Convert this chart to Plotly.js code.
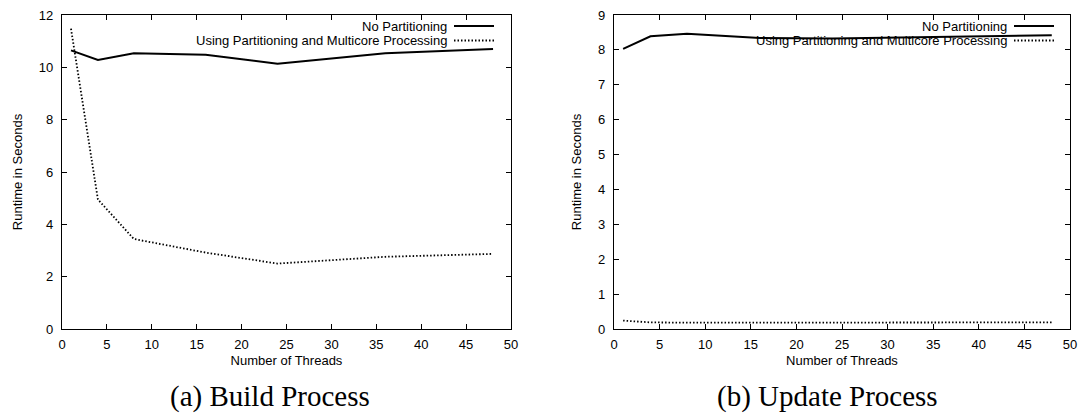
<!DOCTYPE html>
<html>
<head>
<meta charset="utf-8">
<script src="https://cdn.plot.ly/plotly-3.0.1.min.js"></script>
<style>html,body{margin:0;padding:0;background:#fff;}#chart{width:1083px;height:415px;}</style>
</head>
<body>
<div id="chart"></div>
<script>
// Data
const threads = [1, 4, 8, 16, 24, 36, 48];
const buildNoPartition = [10.65, 10.28, 10.54, 10.48, 10.14, 10.54, 10.70];
const buildPartition   = [11.48, 4.95, 3.44, 2.92, 2.50, 2.76, 2.87];
const updateNoPartition = [8.03, 8.39, 8.46, 8.34, 8.33, 8.38, 8.42];
const updatePartition   = [0.24, 0.19, 0.18, 0.18, 0.17, 0.18, 0.19];
const seriesNames = ["No Partitioning", "Using Partitioning and Multicore Processing"];
const captions = ["(a) Build Process", "(b) Update Process"];
const xTitle = "Number of Threads";
const yTitle = "Runtime in Seconds";

const W = 1083, H = 415;
const px = v => v / W;
const py = v => 1 - v / H;

const font = {family: "Liberation Sans, Arial, sans-serif", size: 13, color: "#000"};
const DOT = "1.5px,2px";

function line(x, y, dash, xa, ya, name) {
  return {x: x, y: y, type: "scatter", mode: "lines", name: name,
    xaxis: xa, yaxis: ya, showlegend: false,
    line: {color: "#000", width: dash === "solid" ? 2 : 1.8, dash: dash}};
}

const traces = [
  line(threads, buildNoPartition, "solid", "x", "y", seriesNames[0]),
  line(threads, buildPartition, DOT, "x", "y", seriesNames[1]),
  line(threads, updateNoPartition, "solid", "x2", "y2", seriesNames[0]),
  line(threads, updatePartition, DOT, "x2", "y2", seriesNames[1])
];

function axisBase() {
  return {showline: true, linecolor: "#000", linewidth: 1.2, mirror: "allticks",
    ticks: "inside", ticklen: 5, tickwidth: 1, tickcolor: "#000",
    showgrid: false, zeroline: false, tickfont: font, fixedrange: true};
}

const yTop = 15, yBot = 329;
const xa1 = Object.assign(axisBase(), {domain: [px(62), px(511)], range: [0, 50], dtick: 5, tick0: 0,
  anchor: "y", ticklabelstandoff: 3, title: {text: xTitle, font: font, standoff: 5}});
const ya1 = Object.assign(axisBase(), {domain: [py(yBot), py(yTop)], range: [0, 12], dtick: 2, tick0: 0,
  anchor: "x", ticklabelstandoff: 5, title: {text: yTitle, font: font, standoff: 13}});
const xa2 = Object.assign(axisBase(), {domain: [px(614), px(1070)], range: [0, 50], dtick: 5, tick0: 0,
  anchor: "y2", ticklabelstandoff: 3, title: {text: xTitle, font: font, standoff: 5}});
const ya2 = Object.assign(axisBase(), {domain: [py(yBot), py(yTop)], range: [0, 9], dtick: 1, tick0: 0,
  anchor: "x2", ticklabelstandoff: 5, title: {text: yTitle, font: font, standoff: 13}});

// Legend (gnuplot style: text right-aligned, sample on right)
const legends = [
  {textRight: 449, x0: 454, x1: 494, rows: [26, 40.5]},
  {textRight: 1009, x0: 1014, x1: 1054, rows: [26, 40.5]}
];
const annotations = [];
const shapes = [];
legends.forEach(lg => {
  seriesNames.forEach((nm, i) => {
    annotations.push({xref: "paper", yref: "paper", x: px(lg.textRight), y: py(lg.rows[i]),
      xanchor: "right", yanchor: "middle", text: nm, showarrow: false, font: font});
    shapes.push({type: "line", xref: "paper", yref: "paper",
      x0: px(lg.x0), x1: px(lg.x1), y0: py(lg.rows[i]), y1: py(lg.rows[i]),
      line: {color: "#000", width: i === 0 ? 2 : 1.8, dash: i === 0 ? "solid" : DOT}});
  });
});
const capFont = {family: "Liberation Serif, Times New Roman, serif", size: 29, color: "#000"};
annotations.push({xref: "paper", yref: "paper", x: px(270), y: py(396), xanchor: "center", yanchor: "middle",
  text: captions[0], showarrow: false, font: capFont});
annotations.push({xref: "paper", yref: "paper", x: px(827), y: py(396), xanchor: "center", yanchor: "middle",
  text: captions[1], showarrow: false, font: capFont});

const layout = {
  width: W, height: H,
  margin: {l: 0, r: 0, t: 0, b: 0},
  paper_bgcolor: "#fff", plot_bgcolor: "#fff",
  showlegend: false,
  font: font,
  xaxis: xa1, yaxis: ya1, xaxis2: xa2, yaxis2: ya2,
  annotations: annotations, shapes: shapes
};

Plotly.newPlot("chart", traces, layout, {displayModeBar: false, staticPlot: true});
</script>
</body>
</html>
